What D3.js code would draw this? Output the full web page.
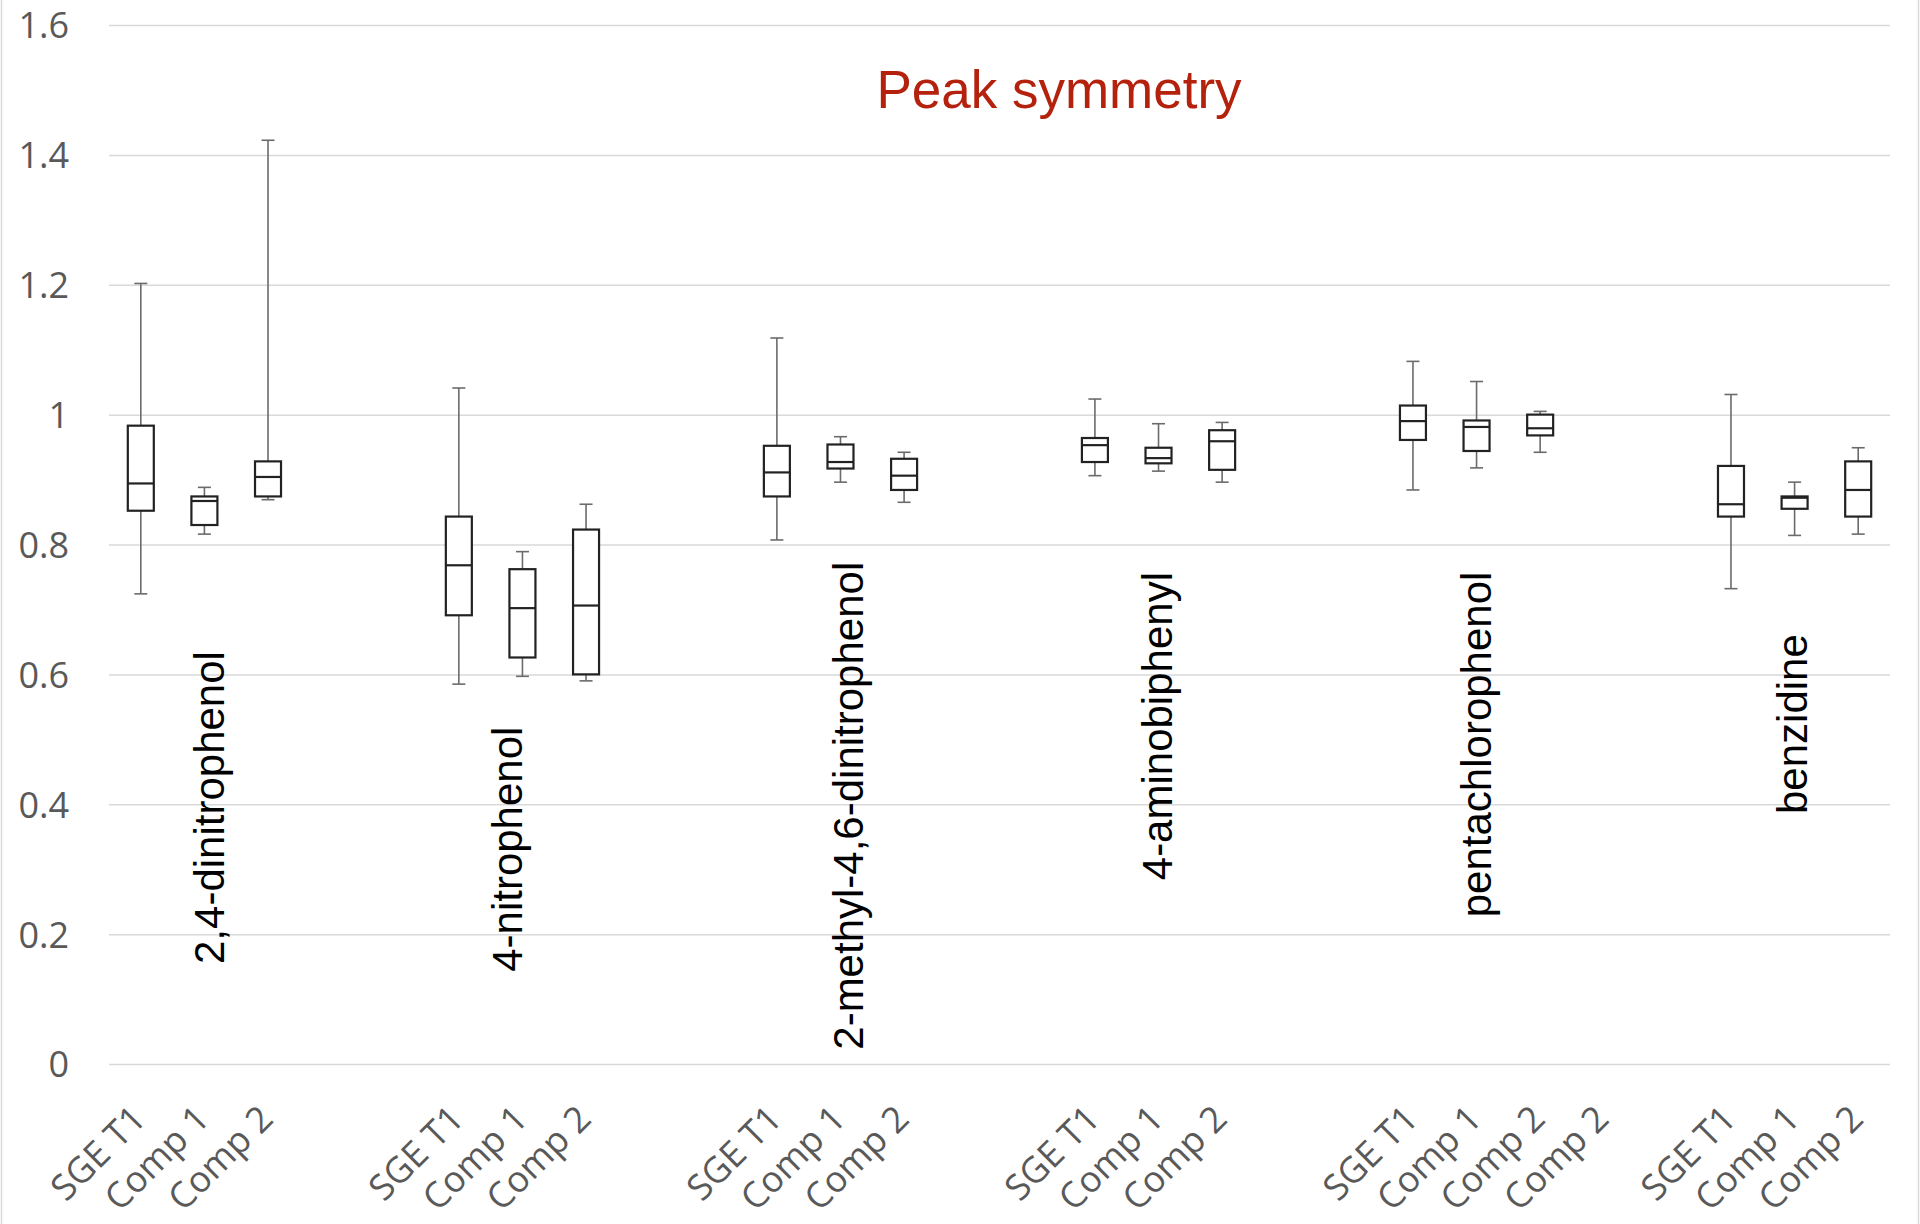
<!DOCTYPE html>
<html>
<head>
<meta charset="utf-8">
<script src="https://cdn.jsdelivr.net/npm/d3@7"></script>
<style>
  html, body { margin: 0; padding: 0; background: #ffffff; }
  svg { display: block; }
</style>
</head>
<body>
<svg id="chart" width="1920" height="1224"></svg>
<script>
// ---------- DATA ----------
const slotLabels = [
  "SGE T1", "Comp 1", "Comp 2", "", "",
  "SGE T1", "Comp 1", "Comp 2", "", "",
  "SGE T1", "Comp 1", "Comp 2", "", "",
  "SGE T1", "Comp 1", "Comp 2", "", "",
  "SGE T1", "Comp 1", "Comp 2", "Comp 2", "",
  "SGE T1", "Comp 1", "Comp 2"
];
const boxSlots = [0, 1, 2, 5, 6, 7, 10, 11, 12, 15, 16, 17, 20, 21, 22, 25, 26, 27];
const whiskerMin = [0.724, 0.816, 0.869, 0.585, 0.597, 0.590, 0.807, 0.896, 0.865, 0.906, 0.913, 0.896, 0.884, 0.918, 0.942, 0.732, 0.814, 0.816];
const quartile1  = [0.852, 0.830, 0.874, 0.691, 0.626, 0.600, 0.874, 0.917, 0.884, 0.927, 0.925, 0.915, 0.961, 0.944, 0.968, 0.843, 0.855, 0.843];
const medians    = [0.894, 0.867, 0.904, 0.768, 0.702, 0.706, 0.911, 0.927, 0.906, 0.953, 0.933, 0.959, 0.990, 0.981, 0.979, 0.862, 0.872, 0.884];
const quartile3  = [0.983, 0.874, 0.928, 0.843, 0.762, 0.823, 0.952, 0.954, 0.932, 0.964, 0.949, 0.976, 1.014, 0.991, 1.000, 0.921, 0.874, 0.928];
const whiskerMax = [1.202, 0.888, 1.4225, 1.041, 0.789, 0.862, 1.118, 0.966, 0.942, 1.024, 0.986, 0.988, 1.082, 1.051, 1.005, 1.031, 0.896, 0.949];

const compounds = ["2,4-dinitrophenol", "4-nitrophenol", "2-methyl-4,6-dinitrophenol", "4-aminobiphenyl", "pentachlorophenol", "benzidine"];
const compoundLabelSlot  = [1.81, 6.49, 11.86, 16.71, 21.73, 26.70];
const compoundLabelValue = [0.154, 0.142, 0.022, 0.283, 0.226, 0.385];

const yTickValues = [0, 0.2, 0.4, 0.6, 0.8, 1.0, 1.2, 1.4, 1.6];
const yTickLabels = ["0", "0.2", "0.4", "0.6", "0.8", "1", "1.2", "1.4", "1.6"];
const chartTitle = "Peak symmetry";

// ---------- LAYOUT ----------
const W = 1920, H = 1224;
const plotLeft = 109, plotRight = 1890, plotTop = 25, plotBottom = 1064;

const svg = d3.select("#chart");

const x = d3.scaleBand()
  .domain(d3.range(slotLabels.length))
  .range([plotLeft, plotRight])
  .padding(0);
const y = d3.scaleLinear().domain([0, 1.6]).range([plotBottom, plotTop]);
const bw = x.bandwidth();
const xFrac = s => plotLeft + s * bw;

// chart border (left & right)
svg.append("line").attr("x1", 1.5).attr("x2", 1.5).attr("y1", 0).attr("y2", H)
  .attr("stroke", "#d9d9d9").attr("stroke-width", 1.5);
svg.append("line").attr("x1", 1918.5).attr("x2", 1918.5).attr("y1", 0).attr("y2", H)
  .attr("stroke", "#d9d9d9").attr("stroke-width", 1.5);

// y axis with gridlines
const yAxis = d3.axisLeft(y)
  .tickValues(yTickValues)
  .tickFormat((d, i) => yTickLabels[i])
  .tickSizeInner(-(plotRight - plotLeft))
  .tickSizeOuter(0)
  .tickPadding(40);
const gy = svg.append("g").attr("transform", `translate(${plotLeft},0)`).call(yAxis);
gy.select(".domain").remove();
gy.selectAll(".tick line").attr("stroke", "#d9d9d9").attr("stroke-width", 1.5);
gy.selectAll(".tick text")
  .attr("fill", "#595959")
  .attr("dy", "0.36em")
  .style("font-family", "'Open Sans', sans-serif")
  .style("font-size", "36px");

// x axis labels
const xAxis = d3.axisBottom(x).tickSize(0).tickFormat(i => slotLabels[i]);
const gx = svg.append("g").attr("transform", `translate(0,${plotBottom})`).call(xAxis);
gx.select(".domain").remove();
gx.selectAll(".tick text")
  .attr("x", 0).attr("y", 0).attr("dy", 0)
  .attr("transform", "translate(7,57) rotate(-45)")
  .style("text-anchor", "end")
  .attr("fill", "#595959")
  .style("font-family", "'Open Sans', sans-serif")
  .style("font-size", "36px");

// boxes
const boxW = 26, capW = 13;
const boxes = boxSlots.map((s, i) => ({
  slot: s, lo: whiskerMin[i], q1: quartile1[i], med: medians[i], q3: quartile3[i], hi: whiskerMax[i]
}));
const g = svg.append("g");
const bg = g.selectAll("g.box").data(boxes).join("g").attr("class", "box")
  .attr("transform", d => `translate(${x(d.slot) + bw / 2},0)`);

const whiskerColor = "#6b6b6b", boxColor = "#222222";
// upper whisker
bg.append("line").attr("x1", 0).attr("x2", 0)
  .attr("y1", d => y(d.q3)).attr("y2", d => y(d.hi))
  .attr("stroke", whiskerColor).attr("stroke-width", 1.6);
bg.append("line").attr("x1", -capW / 2).attr("x2", capW / 2)
  .attr("y1", d => y(d.hi)).attr("y2", d => y(d.hi))
  .attr("stroke", whiskerColor).attr("stroke-width", 1.6);
// lower whisker
bg.append("line").attr("x1", 0).attr("x2", 0)
  .attr("y1", d => y(d.q1)).attr("y2", d => y(d.lo))
  .attr("stroke", whiskerColor).attr("stroke-width", 1.6);
bg.append("line").attr("x1", -capW / 2).attr("x2", capW / 2)
  .attr("y1", d => y(d.lo)).attr("y2", d => y(d.lo))
  .attr("stroke", whiskerColor).attr("stroke-width", 1.6);
// box
bg.append("rect")
  .attr("x", -boxW / 2).attr("width", boxW)
  .attr("y", d => y(d.q3)).attr("height", d => y(d.q1) - y(d.q3))
  .attr("fill", "#ffffff").attr("stroke", boxColor).attr("stroke-width", 2.2);
// median
bg.append("line").attr("x1", -boxW / 2).attr("x2", boxW / 2)
  .attr("y1", d => y(d.med)).attr("y2", d => y(d.med))
  .attr("stroke", boxColor).attr("stroke-width", 2.2);

// compound labels
svg.append("g").selectAll("text").data(compounds).join("text")
  .attr("transform", (d, i) => `translate(${xFrac(compoundLabelSlot[i])},${y(compoundLabelValue[i])}) rotate(-90)`)
  .attr("text-anchor", "start")
  .attr("fill", "#000000")
  .style("font-family", "'Liberation Sans', Arial, sans-serif")
  .style("font-size", "42px")
  .text(d => d);

// title
svg.append("text")
  .attr("x", 1059).attr("y", 108)
  .attr("text-anchor", "middle")
  .attr("fill", "#b4220e")
  .style("font-family", "'Liberation Sans', Arial, sans-serif")
  .style("font-size", "53px")
  .text(chartTitle);
</script>
</body>
</html>
